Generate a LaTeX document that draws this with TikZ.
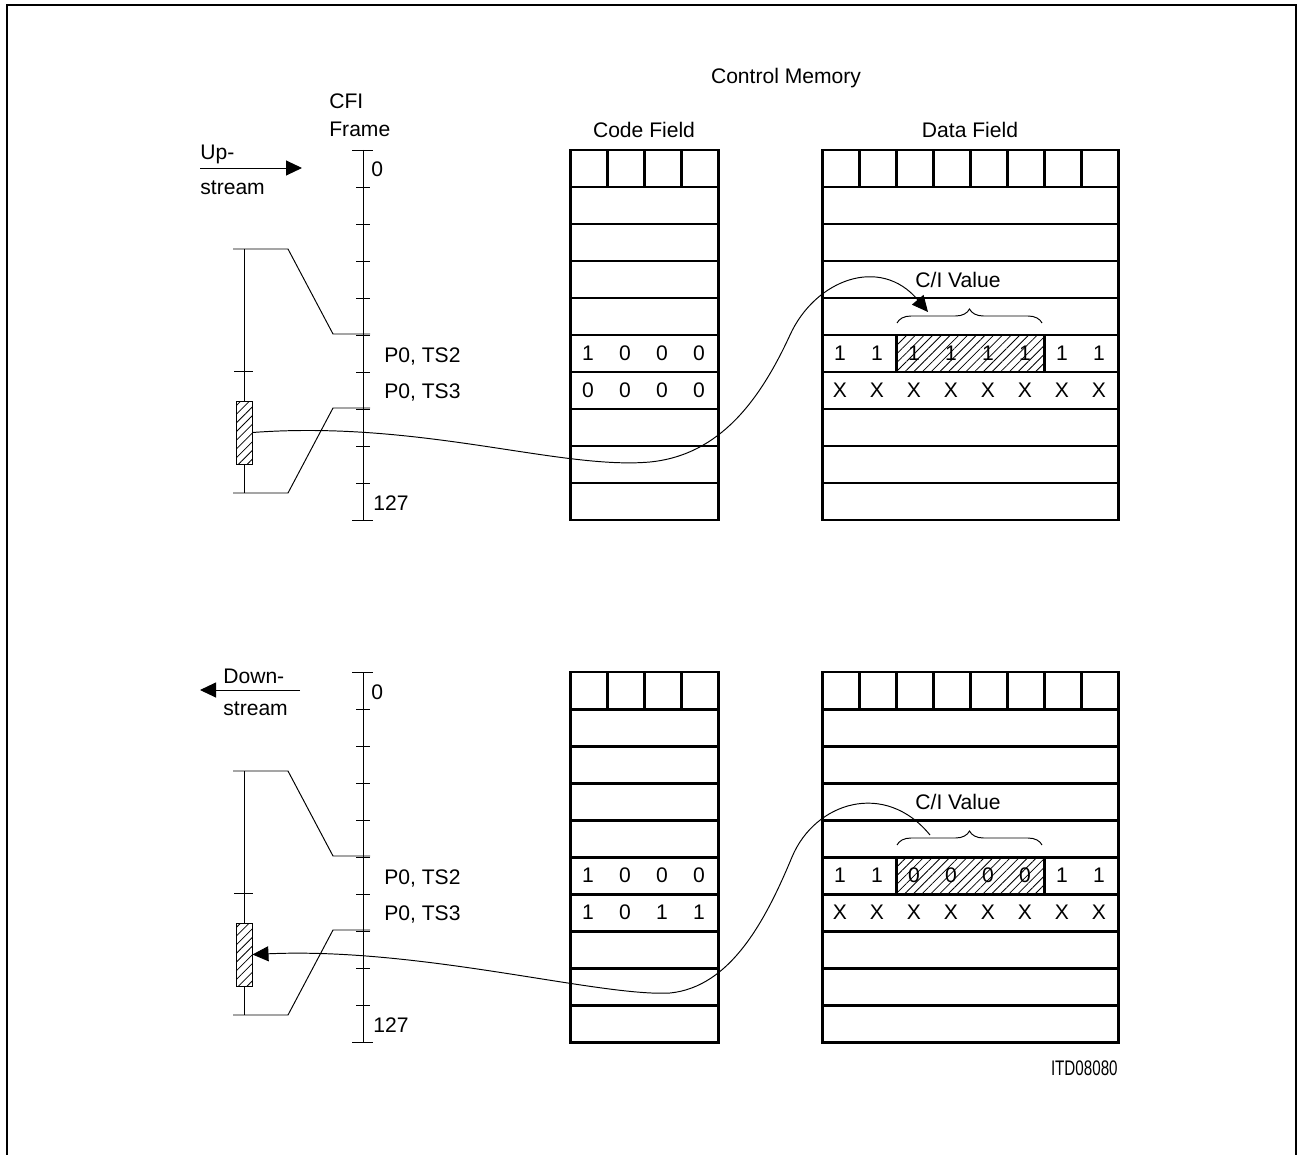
\documentclass[tikz,border=0pt]{standalone}
\usepackage{fontspec}
\setmainfont{Liberation Sans}
\usetikzlibrary{arrows.meta,positioning,patterns.meta,decorations.pathreplacing}

\begin{document}
\begin{tikzpicture}[
  x=0.02cm,y=-0.02cm,
  every node/.style={font=\fontsize{12}{14.5}\selectfont,inner sep=0pt},
  cellline/.style={line width=1.7pt},
  thinline/.style={line width=0.55pt},
  hatch/.style={pattern={Lines[angle=45,distance=3.5pt,line width=0.45pt]}},
  slotbox/.style={draw,thinline,hatch,minimum width=0.32cm,minimum height=1.26cm},
  tip/.style={-{Triangle[length=0.32cm,width=0.3cm]}},
]
  \useasboundingbox (0,0) rectangle (1297,1155);

  % outer frame
  \draw[line width=1.1pt] (7,1155) -- (7,5) -- (1296,5) -- (1296,1155);

  % headings
  \node (ctrlmem) at (786,78) {Control Memory};
  \node[anchor=base west] (cfi) at (329,109) {CFI};
  \node[anchor=base west] (frame) at (329,137) {Frame};
  \node (codefield) at (644,130) {Code Field};
  \node (datafield) at (970,130) {Data Field};

  % both halves: memory blocks and CFI frame axis
  \foreach \half/\dy in {U/0,D/522} {
    \begin{scope}[shift={(0,\dy)}]
      % code field
      \draw[cellline] (570,150) rectangle (718,520);
      \foreach \y in {187,224,...,483} \draw[cellline] (570,\y) -- (718,\y);
      \foreach \x in {607,644,681} \draw[cellline] (\x,150) -- (\x,187);
      % data field
      \fill[hatch] (896,335) rectangle (1044,372);
      \draw[cellline] (822,150) rectangle (1118,520);
      \foreach \y in {187,224,...,483} \draw[cellline] (822,\y) -- (1118,\y);
      \foreach \x in {859,896,...,1081} \draw[cellline] (\x,150) -- (\x,187);
      \draw[cellline] (896,335) -- (896,372) (1044,335) -- (1044,372);
      \foreach \x in {840,877,...,1099} \node (x\half\x) at (\x,390.5) {X};
      \node (cival\half) at (958,280) {C/I Value};
      \draw[thinline,decorate,decoration={brace,amplitude=0.28cm}] (897,323) -- (1042,323);
      % frame axis
      \draw[thinline] (363,150) -- (363,520);
      \draw[thinline] (352,150) -- (373,150) (352,520) -- (373,520);
      \foreach \y in {187,224,...,483} \draw[thinline] (356,\y) -- (370,\y);
      \node[anchor=base west] (zero\half) at (371,177) {0};
      \node[anchor=base west] (last\half) at (373,510) {127};
      \node[anchor=base west] (tsa\half) at (384,362) {P0, TS2};
      \node[anchor=base west] (tsb\half) at (384,398) {P0, TS3};
      % expanded slot
      \draw[thinline] (233,249) -- (288,249) -- (333,334) -- (370,334);
      \draw[thinline] (233,493) -- (288,493) -- (333,408) -- (370,408);
      \draw[thinline] (244,249) -- (244,401) (244,464) -- (244,493);
      \draw[thinline] (234,371) -- (253,371);
      \node[slotbox] (slot\half) at (244,432.5) {};
    \end{scope}
  }

  % upstream values
  \foreach \x/\d [count=\i] in {588/1,625/0,662/0,699/0} \node (cU\i) at (\x,353.5) {\d};
  \foreach \x/\d [count=\i] in {588/0,625/0,662/0,699/0} \node (dU\i) at (\x,390.5) {\d};
  \foreach \x/\d [count=\i] in {840/1,877/1,914/1,951/1,988/1,1025/1,1062/1,1099/1} \node (vU\i) at (\x,353.5) {\d};

  % downstream values
  \foreach \x/\d [count=\i] in {588/1,625/0,662/0,699/0} \node (cD\i) at (\x,875.5) {\d};
  \foreach \x/\d [count=\i] in {588/1,625/0,662/1,699/1} \node (dD\i) at (\x,912.5) {\d};
  \foreach \x/\d [count=\i] in {840/1,877/1,914/0,951/0,988/0,1025/0,1062/1,1099/1} \node (vD\i) at (\x,875.5) {\d};

  % direction arrows
  \coordinate (upfrom) at (200,168);
  \coordinate (upto) at (302,168);
  \draw[thinline,tip] (upfrom) -- (upto);
  \node[anchor=base west] (uplbl) at (200,160) {Up-};
  \node[anchor=base west] (upstr) at (200,195) {stream};

  \coordinate (downfrom) at (300,690);
  \coordinate (downto) at (200,690);
  \draw[thinline,tip] (downfrom) -- (downto);
  \node[anchor=base west] (downlbl) at (223,683) {Down-};
  \node[anchor=base west] (downstr) at (223,715) {stream};

  % C/I value paths
  \coordinate (ciendU) at (928,312);
  \draw[thinline,tip] (slotU.east) .. controls (420,420) and (560,470) .. (650,462)
    .. controls (720,455) and (760,400) .. (790,335)
    .. controls (815,280) and (880,255) .. (ciendU);

  \coordinate (ciendD) at (930,835);
  \draw[thinline,tip] (ciendD) .. controls (885,780) and (815,802) .. (792,857)
    .. controls (765,922) and (730,987) .. (670,993)
    .. controls (600,997) and (420,947) .. (slotD.east);

  \node[anchor=east] (itd) at (1118,1068) {\scalebox{0.72}[1]{ITD08080}};
\end{tikzpicture}
\end{document}
